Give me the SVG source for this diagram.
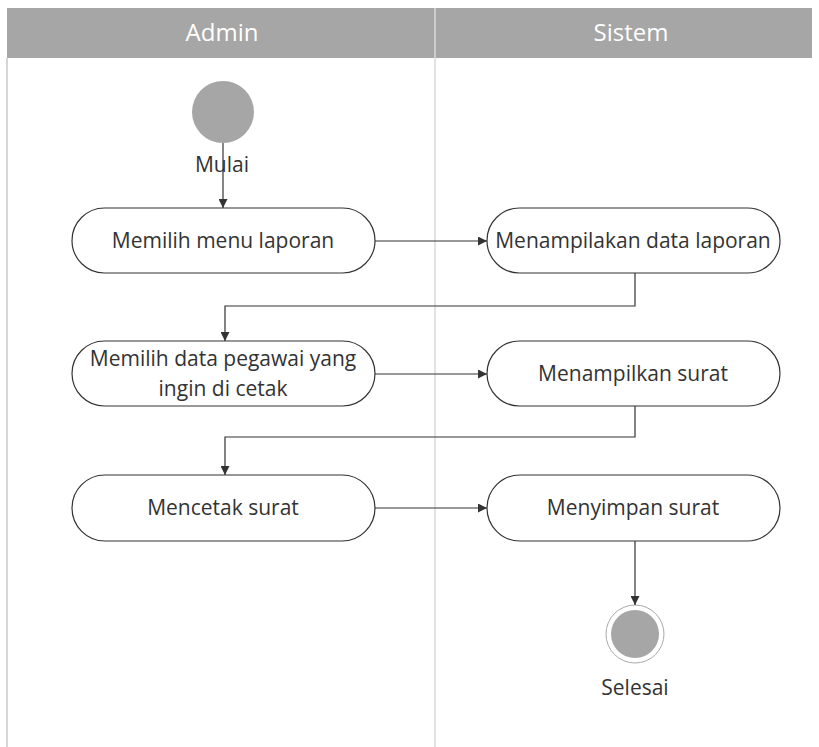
<svg xmlns="http://www.w3.org/2000/svg" width="819" height="747" viewBox="0 0 819 747">
<defs>
<marker id="arr" viewBox="0 0 10 10" refX="10" refY="5" markerWidth="9" markerHeight="9" markerUnits="userSpaceOnUse" orient="auto">
<path d="M0,0 L10,5 L0,10 z" fill="#333"/>
</marker>
<style>
.lane{fill:none;stroke:#c8c8c8;stroke-width:1.5}
.hdr{fill:#a6a6a6}
.htxt{font-family:"Open Sans","Liberation Sans",sans-serif;font-size:24px;fill:#fff;text-anchor:middle}
.node{fill:#fff;stroke:#333;stroke-width:1.2}
.txt{font-family:"Open Sans","Liberation Sans",sans-serif;font-size:21px;fill:#333;text-anchor:middle}
.edge{fill:none;stroke:#333;stroke-width:1.2;marker-end:url(#arr)}
</style>
</defs>
<rect width="819" height="747" fill="#fff"/>
<g id="lanes">
<rect class="hdr" x="7" y="8" width="805" height="50"/>
<line x1="435" y1="8" x2="435" y2="747" stroke="#d8d8d8" stroke-width="1.5"/>
<line x1="7" y1="58" x2="7" y2="747" class="lane"/>
<text class="htxt" x="222" y="41">Admin</text>
<text class="htxt" x="631" y="41">Sistem</text>
</g>
<g id="start">
<circle cx="223" cy="112" r="31" fill="#a6a6a6"/>
<text class="txt" x="222" y="172">Mulai</text>
</g>
<g id="n1">
<rect class="node" x="72" y="208" width="303" height="65" rx="32.5"/>
<text class="txt" x="223" y="248">Memilih menu laporan</text>
</g>
<g id="n2">
<rect class="node" x="487" y="208" width="293" height="65" rx="32.5"/>
<text class="txt" x="633" y="248">Menampilakan data laporan</text>
</g>
<g id="n3">
<rect class="node" x="72" y="341" width="303" height="65" rx="32.5"/>
<text class="txt" x="223" y="366">Memilih data pegawai yang</text>
<text class="txt" x="223" y="396">ingin di cetak</text>
</g>
<g id="n4">
<rect class="node" x="487" y="341" width="293" height="65" rx="32.5"/>
<text class="txt" x="633" y="381">Menampilkan surat</text>
</g>
<g id="n5">
<rect class="node" x="72" y="475" width="303" height="66" rx="33"/>
<text class="txt" x="223" y="515">Mencetak surat</text>
</g>
<g id="n6">
<rect class="node" x="487" y="475" width="293" height="66" rx="33"/>
<text class="txt" x="633" y="515">Menyimpan surat</text>
</g>
<g id="end">
<circle cx="635" cy="634" r="29" fill="#fff" stroke="#aaa" stroke-width="1"/>
<circle cx="635" cy="634" r="24" fill="#a6a6a6"/>
<text class="txt" x="635" y="695">Selesai</text>
</g>
<g id="connectors">
<path class="edge" d="M223,143 V208"/>
<path class="edge" d="M375,241 H487"/>
<path class="edge" d="M635,273 V306 H225 V341"/>
<path class="edge" d="M375,374 H487"/>
<path class="edge" d="M635,406 V437 H225 V475"/>
<path class="edge" d="M375,508 H487"/>
<path class="edge" d="M635,541 V605"/>
</g>
</svg>
